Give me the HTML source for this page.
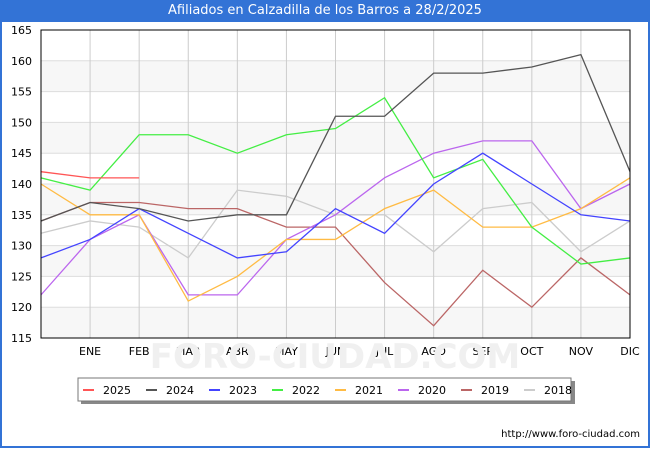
<!DOCTYPE html>
<html><head><meta charset="utf-8"><style>
body{margin:0;width:650px;height:450px;overflow:hidden;font-family:"DejaVu Sans","Liberation Sans",sans-serif;background:#fff}
#frame{position:absolute;left:0;top:0;width:646px;height:446px;border:2px solid #3373d6;border-top:none}
#title{position:absolute;left:0;top:0;width:650px;height:22px;background:#3373d6;color:#fff;font-size:13px;text-align:center;line-height:22px}
</style></head><body>
<div id="frame"></div>
<div id="title">Afiliados en Calzadilla de los Barros a 28/2/2025</div>
<svg id="chart" width="650" height="450" style="position:absolute;left:0;top:0"></svg>
<script>
const months=["","ENE","FEB","MAR","ABR","MAY","JUN","JUL","AGO","SEP","OCT","NOV","DIC"];
const yTicks=[115,120,125,130,135,140,145,150,155,160,165];
const years=["2025","2024","2023","2022","2021","2020","2019","2018"];
const colors=["#ff5555","#555555","#4444ff","#44ee44","#ffbb44","#bb66ee","#bb6666","#cccccc"];
const s2025=[142,141,141];
const s2024=[134,137,136,134,135,135,151,151,158,158,159,161,142];
const s2023=[128,131,136,132,128,129,136,132,140,145,140,135,134];
const s2022=[141,139,148,148,145,148,149,154,141,144,133,127,128];
const s2021=[140,135,135,121,125,131,131,136,139,133,133,136,141];
const s2020=[122,131,135,122,122,131,135,141,145,147,147,136,140];
const s2019=[134,137,137,136,136,133,133,124,117,126,120,128,122];
const s2018=[132,134,133,128,139,138,135,135,129,136,137,129,134];
const series=[s2025,s2024,s2023,s2022,s2021,s2020,s2019,s2018];
const NS="http://www.w3.org/2000/svg";
const svg=document.getElementById('chart');
const L=41,R=630,T=30,B=338,yMin=115,yMax=165;
const x=i=>L+i*(R-L)/(months.length-1);
const y=v=>B-(v-yMin)/(yMax-yMin)*(B-T);
function mk(t,a){const e=document.createElementNS(NS,t);for(const k in a)e.setAttribute(k,a[k]);svg.appendChild(e);return e;}
for(let i=0;i<yTicks.length-1;i++){
  if(i%2==0){const r=mk('rect',{x:L,y:y(yTicks[i+1]),width:R-L,height:y(yTicks[i])-y(yTicks[i+1]),fill:i%4==0?'#f7f7f7':'#f7f7f7'});
  
  }
}
// make bands alternate: gray for 155-160, 145-150, ...
svg.innerHTML='';
for(let i=0;i<yTicks.length-1;i++){
  if((yTicks.length-2-i)%2==1){const r=mk('rect',{x:L,y:y(yTicks[i+1]),width:R-L,height:y(yTicks[i])-y(yTicks[i+1]),fill:'#f7f7f7'});
  
  }
}
yTicks.forEach(v=>{
  const g=mk('line',{x1:L,x2:R,y1:y(v),y2:y(v),stroke:'#dddddd','stroke-width':1});
  
  
  const t=mk('text',{x:L-9,y:y(v)+4,'text-anchor':'end','font-size':11,fill:'#000'});
  t.textContent=v;
  
  
});
months.forEach((m,i)=>{
  if(i>0){const g=mk('line',{x1:x(i),x2:x(i),y1:T,y2:B,stroke:'#cccccc','stroke-width':1});
  
  }
  const t=mk('text',{x:x(i),y:B+17,'text-anchor':'middle','font-size':11,fill:'#000'});
  t.textContent=m;
  
  
});
const wm=mk('text',{x:335,y:368,'text-anchor':'middle','font-size':34,fill:'#f0f0f0','font-weight':'bold'});
wm.textContent='FORO-CIUDAD.COM';


for(let k=series.length-1;k>=0;k--){
  const p=mk('polyline',{points:series[k].map((v,i)=>x(i)+','+y(v)).join(' '),fill:'none',stroke:colors[k],'stroke-width':1.3});
  
  
}
const ax=mk('rect',{x:L,y:T,width:R-L,height:B-T,fill:'none',stroke:'#000','stroke-width':1});


const sh=mk('rect',{x:81,y:381,width:494,height:23,fill:'#888'});


const lb=mk('rect',{x:78,y:378,width:493,height:23,fill:'#fff',stroke:'#777'});


years.forEach((yr,k)=>{
  const lx=83+k*63;
  const l=mk('line',{x1:lx,x2:lx+11,y1:390,y2:390,stroke:colors[k],'stroke-width':2});
  
  
  const t=mk('text',{x:lx+20,y:394,'font-size':11,fill:'#000'});
  t.textContent=yr;
  
  
});
const u=mk('text',{x:640,y:437,'text-anchor':'end','font-size':10,fill:'#000'});
u.textContent='http://www.foro-ciudad.com';


</script>
</body></html>
